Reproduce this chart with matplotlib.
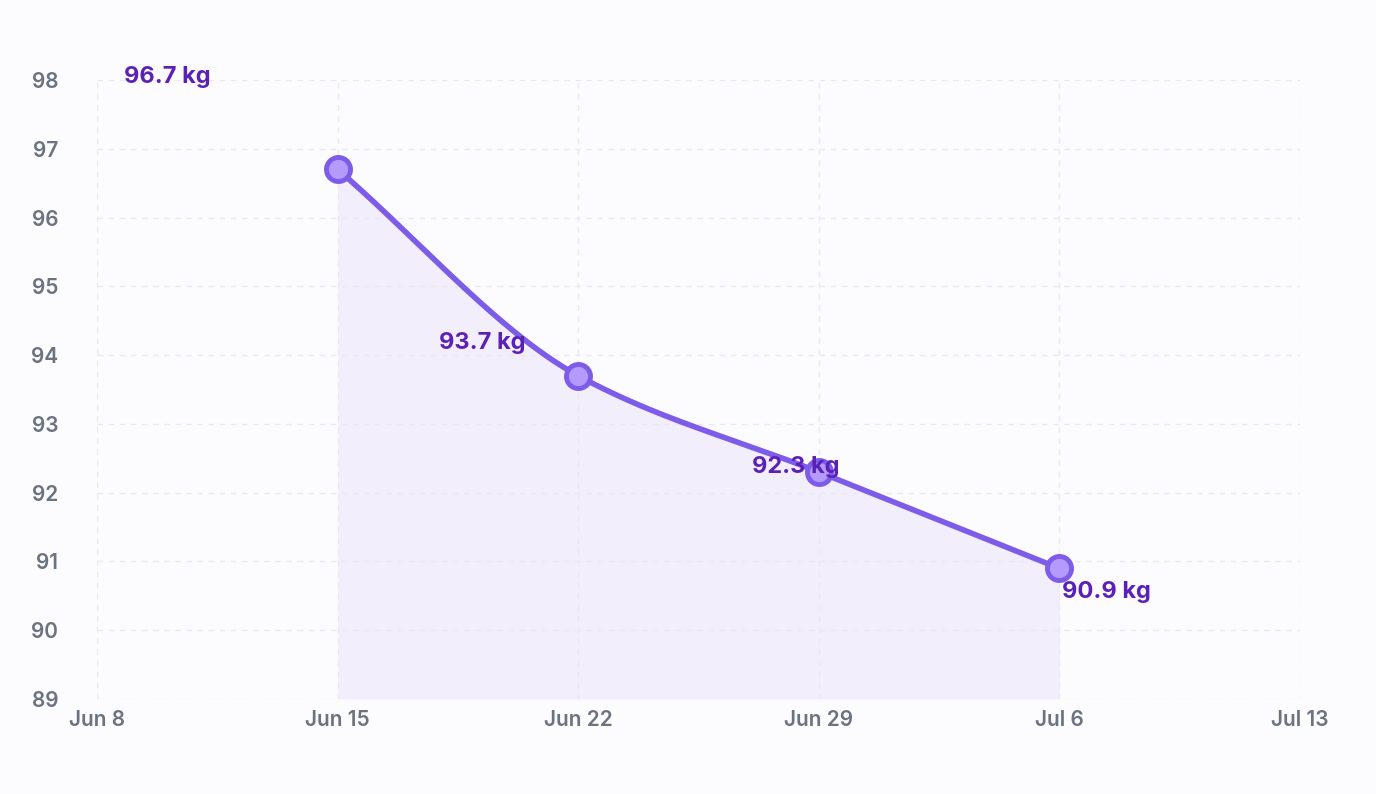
import numpy as np
import matplotlib.pyplot as plt
import matplotlib.dates as mdates
import datetime as dt

dates = [dt.date(2024, 6, 15), dt.date(2024, 6, 22), dt.date(2024, 6, 29), dt.date(2024, 7, 6)]
weights = [96.7, 93.7, 92.3, 90.9]
labels = ["96.7 kg", "93.7 kg", "92.3 kg", "90.9 kg"]
label_offsets = [(-170, 92), (-96, 33), (-23, 5), (47, -24)]  # pixel offsets of labels
tick_dates = [dt.date(2024, 6, 8) + dt.timedelta(days=7 * i) for i in range(6)]
tick_labels = ["Jun 8", "Jun 15", "Jun 22", "Jun 29", "Jul 6", "Jul 13"]

plt.rcParams["font.family"] = "Inter"
fig = plt.figure(figsize=(13.76, 7.94), dpi=100, facecolor="#fcfbfd")
ax = fig.add_axes([97 / 1376, 1 - 699 / 794, (1300 - 97) / 1376, (699 - 80) / 794])
ax.set_facecolor("none")

x = mdates.date2num(dates)
y = np.array(weights)

# monotone cubic (Fritsch-Carlson) smoothing
h = np.diff(x); d = np.diff(y) / h
m = np.zeros_like(y)
m[0], m[-1] = d[0], d[-1]
for i in range(1, len(y) - 1):
    m[i] = 0 if d[i - 1] * d[i] <= 0 else 2 / (1 / d[i - 1] + 1 / d[i])
xs, ys = [], []
for i in range(len(x) - 1):
    t = np.linspace(0, 1, 60)
    h00 = 2 * t**3 - 3 * t**2 + 1; h10 = t**3 - 2 * t**2 + t
    h01 = -2 * t**3 + 3 * t**2; h11 = t**3 - t**2
    xs.append(x[i] + t * h[i])
    ys.append(h00 * y[i] + h10 * h[i] * m[i] + h01 * y[i + 1] + h11 * h[i] * m[i + 1])
xs = np.concatenate(xs); ys = np.concatenate(ys)

ax.fill_between(xs, ys, 89, color="#a78bfa", alpha=0.11, linewidth=0)
ax.plot(xs, ys, color="#7c5ce8", lw=4, solid_capstyle="round")
ax.scatter(x, y, s=300, facecolor="#b49afa", edgecolor="#7c5ce8", linewidth=3.5, zorder=5)
for xi, yi, lab, off in zip(x, y, labels, label_offsets):
    ax.annotate(lab, (xi, yi), xytext=off, textcoords="offset pixels", ha="center", va="center",
                fontsize=17, fontweight="bold", color="#5b21b6", zorder=6)

ax.set_xlim(mdates.date2num(tick_dates[0]), mdates.date2num(tick_dates[-1]))
ax.set_ylim(89, 98)
ax.set_xticks(mdates.date2num(tick_dates))
ax.set_xticklabels(tick_labels)
ax.set_yticks(range(89, 99))
ax.grid(True, color="#ebe8f1", linestyle=(0, (4, 4)), lw=1)
for s in ax.spines.values():
    s.set_visible(False)
ax.tick_params(length=0, labelsize=15, colors="#6b7280", pad=8)
for lbl in ax.get_xticklabels() + ax.get_yticklabels():
    lbl.set_fontweight("semibold")
ax.tick_params(axis="y", pad=28)
fig.savefig("out.png", dpi=100, facecolor=fig.get_facecolor())
